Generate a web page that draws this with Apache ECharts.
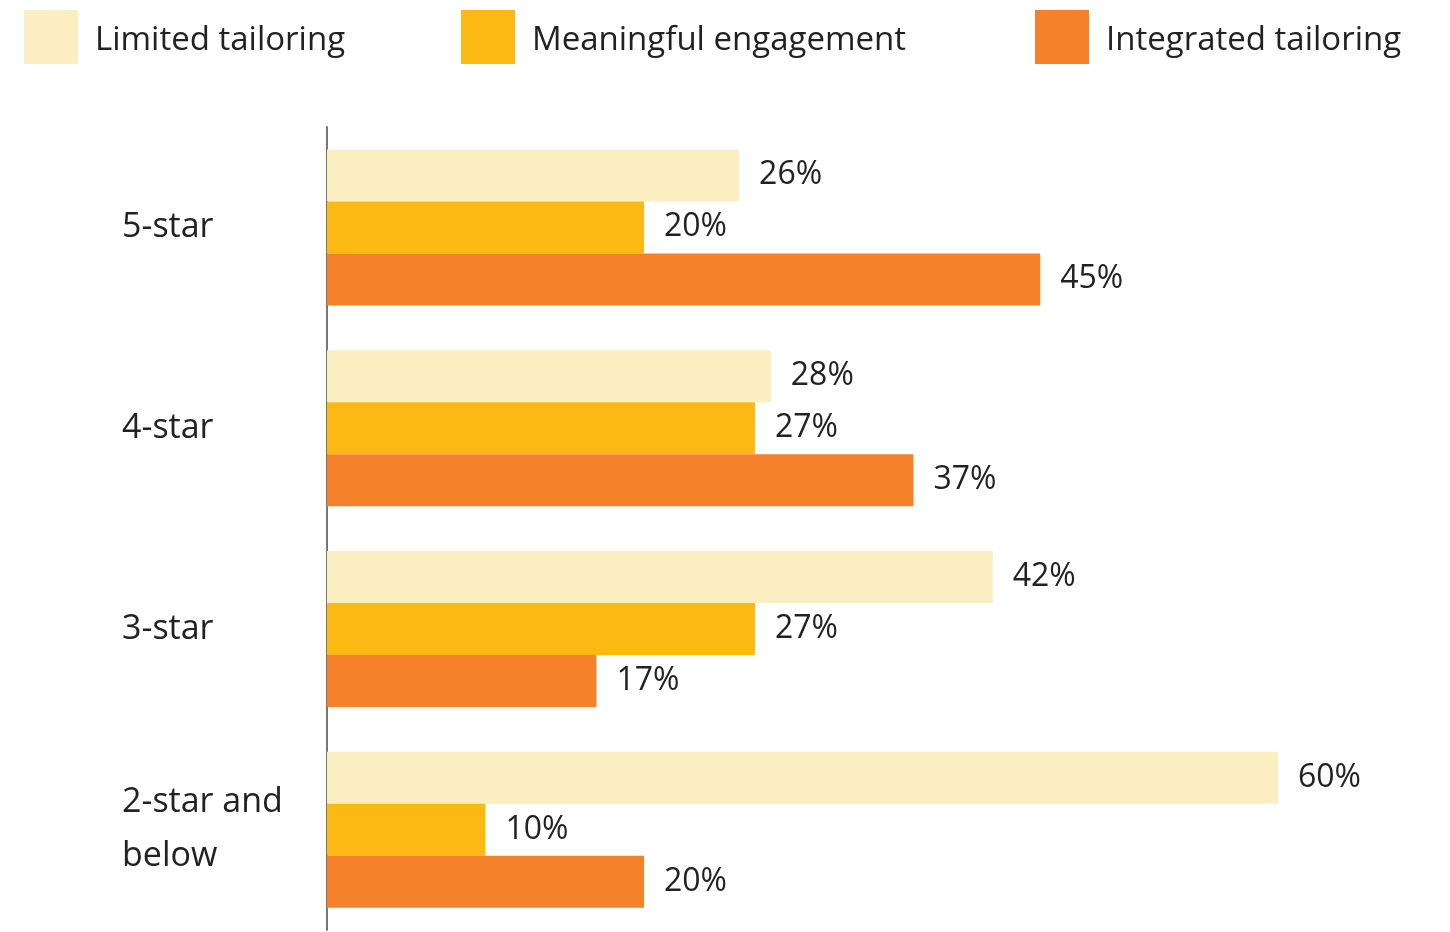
<!DOCTYPE html>
<html>
<head>
<meta charset="utf-8">
<title>Tailoring by star rating</title>
<script src="https://cdn.jsdelivr.net/npm/echarts@6/dist/echarts.min.js"></script>
<style>
  html, body { margin: 0; padding: 0; background: #ffffff; }
  #chart { width: 1450px; height: 932px; }
</style>
</head>
<body>
<div id="chart"></div>
<script>
// Star-rating groups, top to bottom
const categories = ['5-star', '4-star', '3-star', '2-star and\nbelow'];

// Share of respondents (%) per tailoring level
const limitedTailoring = [26, 28, 42, 60];
const meaningfulEngagement = [20, 27, 27, 10];
const integratedTailoring = [45, 37, 17, 20];

const seriesNames = ['Limited tailoring', 'Meaningful engagement', 'Integrated tailoring'];
const seriesColors = ['#FBEEC1', '#FDB913', '#F5812A'];
const seriesValues = [limitedTailoring, meaningfulEngagement, integratedTailoring];

const FONT = '"Open Sans", "Noto Sans", sans-serif';
const TEXT = '#222222';

const legendLefts = [24, 461, 1035];

const chart = echarts.init(document.getElementById('chart'), null, { renderer: 'canvas' });

chart.setOption({
  animation: false,
  backgroundColor: '#ffffff',
  legend: seriesNames.map((name, i) => ({
    data: [name],
    left: legendLefts[i],
    top: 10,
    padding: 0,
    icon: 'rect',
    itemWidth: 54,
    itemHeight: 54,
    selectedMode: false,
    formatter: '{t|{name}}',
    textStyle: {
      fontFamily: FONT,
      fontSize: 33,
      color: TEXT,
      rich: {
        t: {
          fontFamily: FONT,
          fontSize: 33,
          color: TEXT,
          padding: [8, 0, 0, 12]
        }
      }
    }
  })),
  grid: {
    left: 327,
    right: 172,
    top: 127,
    bottom: 2,
    containLabel: false
  },
  xAxis: {
    type: 'value',
    min: 0,
    max: 60,
    show: false
  },
  yAxis: {
    type: 'category',
    data: categories,
    inverse: true,
    axisLine: { show: true, lineStyle: { color: '#777777', width: 2 } },
    axisTick: { show: false },
    splitLine: { show: false },
    axisLabel: {
      align: 'left',
      margin: 205,
      fontFamily: FONT,
      fontSize: 34,
      lineHeight: 54,
      color: TEXT
    }
  },
  series: seriesNames.map((name, i) => ({
    name: name,
    type: 'bar',
    data: seriesValues[i],
    barWidth: 52,
    barGap: '0%',
    itemStyle: { color: seriesColors[i] },
    label: {
      show: true,
      position: 'right',
      distance: 20,
      formatter: '{c}%',
      fontFamily: FONT,
      fontSize: 32,
      color: TEXT
    }
  }))
});
</script>
</body>
</html>
